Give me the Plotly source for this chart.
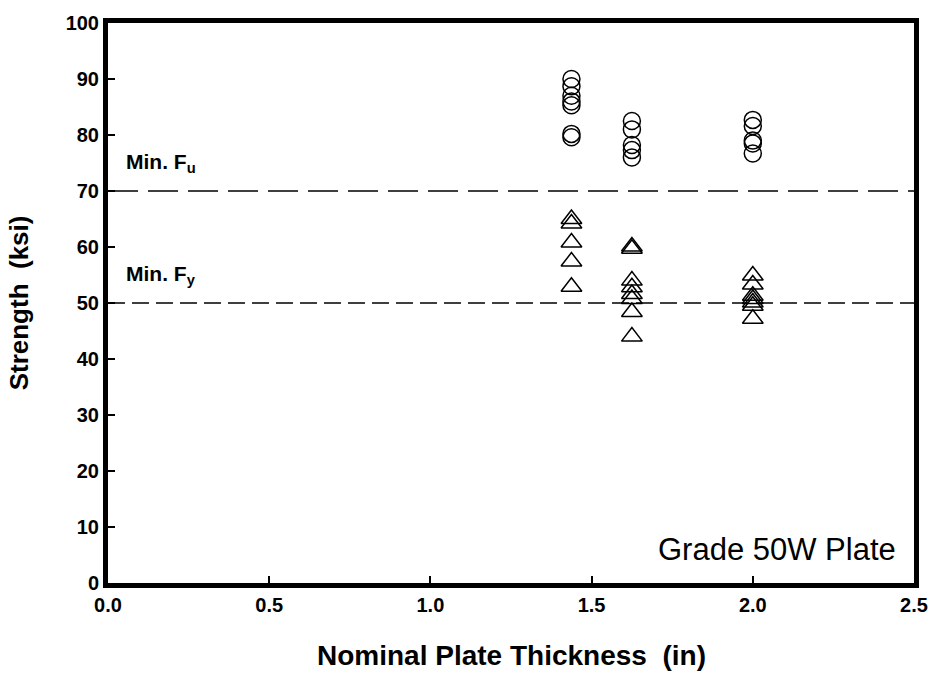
import plotly.graph_objects as go

# Data
fu_x = [1.4375]*7 + [1.625]*5 + [2.0]*5
fu_y = [90.0, 88.7, 87.0, 86.0, 85.3, 80.2, 79.6,
        82.5, 81.0, 78.2, 77.3, 76.0,
        82.7, 81.6, 79.0, 78.5, 76.7]
fy_x = [1.4375]*5 + [1.625]*8 + [2.0]*7
fy_y = [65.0, 64.2, 60.8, 57.4, 52.9,
        60.1, 59.7, 54.0, 52.8, 51.6, 50.7, 48.4, 44.0,
        54.9, 53.3, 51.3, 50.7, 50.1, 49.5, 47.2]
min_fu = 70
min_fy = 50
x_ticks = [0.0, 0.5, 1.0, 1.5, 2.0, 2.5]
y_ticks = list(range(0, 101, 10))

FAM = "Liberation Sans, Arial, sans-serif"

fig = go.Figure()
fig.add_trace(go.Scatter(x=[0, 2.5], y=[min_fu, min_fu], mode="lines",
                         line=dict(color="black", width=1.5, dash="30px,10px"),
                         showlegend=False, hoverinfo="skip"))
fig.add_trace(go.Scatter(x=[0, 2.5], y=[min_fy, min_fy], mode="lines",
                         line=dict(color="black", width=1.5, dash="17px,7px"),
                         showlegend=False, hoverinfo="skip"))
fig.add_trace(go.Scatter(x=fu_x, y=fu_y, mode="markers",
                         marker=dict(symbol="circle-open", size=17, color="black",
                                     line=dict(width=1.5, color="black")),
                         showlegend=False))
fig.add_trace(go.Scatter(x=fy_x, y=fy_y, mode="markers",
                         marker=dict(symbol="triangle-up-open", size=18, color="black",
                                     line=dict(width=1.5, color="black")),
                         showlegend=False))

font_b = dict(family=FAM, size=21, color="black")

fig.add_annotation(x=0.05, y=75.0, xref="x", yref="y", text="<b>Min. F<sub>u</sub></b>",
                   showarrow=False, xanchor="left", yanchor="middle", font=font_b)
fig.add_annotation(x=0.05, y=55.0, xref="x", yref="y", text="<b>Min. F<sub>y</sub></b>",
                   showarrow=False, xanchor="left", yanchor="middle", font=font_b)
fig.add_annotation(x=2.45, y=6.0, xref="x", yref="y", text="Grade 50W Plate",
                   showarrow=False, xanchor="right", yanchor="middle",
                   font=dict(family=FAM, size=31, color="black"))

# Axis titles
fig.add_annotation(x=0.5, y=-0.130, xref="paper", yref="paper",
                   text="<b>Nominal Plate Thickness\u00a0 (in)</b>",
                   showarrow=False, xanchor="center", yanchor="middle",
                   font=dict(family=FAM, size=28, color="black"))
fig.add_annotation(x=-0.11, y=0.5, xref="paper", yref="paper",
                   text="<b>Strength\u00a0 (ksi)</b>", textangle=-90,
                   showarrow=False, xanchor="center", yanchor="middle",
                   font=dict(family=FAM, size=26, color="black"))

fig.update_layout(
    width=940, height=676,
    margin=dict(l=108, r=20, t=15, b=93),
    plot_bgcolor="white", paper_bgcolor="white",
    font=font_b,
)
tickfont = dict(family=FAM, size=20, color="black", weight="bold")
fig.update_xaxes(range=[0, 2.5], tickvals=x_ticks, ticktext=[f"{v:.1f}" for v in x_ticks],
                 ticks="inside", ticklen=7, tickwidth=1.5, tickcolor="black",
                 showline=True, linewidth=5, linecolor="black", mirror=True,
                 showgrid=False, zeroline=False, tickfont=tickfont)
fig.update_yaxes(range=[0, 100], tickvals=y_ticks,
                 ticks="inside", ticklen=7, tickwidth=1.5, tickcolor="black",
                 showline=True, linewidth=5, linecolor="black", mirror=True,
                 showgrid=False, zeroline=False, tickfont=tickfont)

fig.write_html("out.html")
